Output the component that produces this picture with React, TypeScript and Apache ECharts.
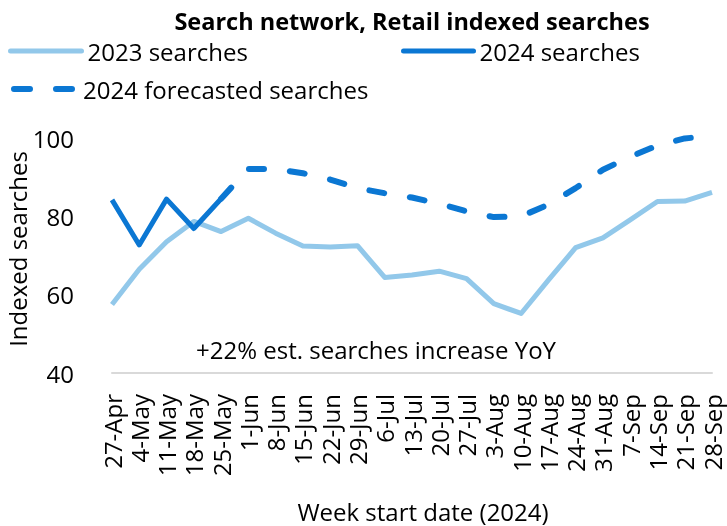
import React, { useEffect, useRef } from "react";
import * as echarts from "echarts";

const categories = [
  "27-Apr", "4-May", "11-May", "18-May", "25-May", "1-Jun", "8-Jun", "15-Jun",
  "22-Jun", "29-Jun", "6-Jul", "13-Jul", "20-Jul", "27-Jul", "3-Aug", "10-Aug",
  "17-Aug", "24-Aug", "31-Aug", "7-Sep", "14-Sep", "21-Sep", "28-Sep",
];

const searches2023 = [
  57.5, 66.5, 73.5, 78.7, 76.1, 79.5, 75.7, 72.4, 72.2, 72.5, 64.4, 65.0,
  66.0, 64.1, 57.7, 55.2, 63.7, 72.0, 74.5, 79.1, 83.8, 83.9, 86.1,
];

const searches2024 = [
  84.2, 72.7, 84.4, 76.9, 84.5, null, null, null, null, null, null, null,
  null, null, null, null, null, null, null, null, null, null, null,
];

const forecast2024 = [
  null, null, null, null, 84.5, 92.1, 92.1, 91.0, 89.4, 87.2, 85.9, 84.8,
  83.2, 81.3, 79.8, 80.0, 83.0, 87.2, 91.9, 95.2, 98.1, 99.9, 100.5,
];

const yMin = 40;
const yMax = 100;
const yInterval = 20;

const FONT = "Open Sans";
const LIGHT = "#92C8EA";
const DARK = "#0B77D3";

const legendBase = {
  padding: 0,
  itemHeight: 14,
  itemGap: 0,
  textStyle: {
    fontSize: 24,
    lineHeight: 26,
    fontFamily: FONT,
    color: "#000",
    padding: [0, 0, 0, 1],
  },
  itemStyle: { opacity: 0, borderWidth: 0 },
};

export default function App() {
  const ref = useRef<HTMLDivElement>(null);

  useEffect(() => {
    if (!ref.current) return;
    const chart = echarts.init(ref.current, null, { renderer: "svg" });
    const option = {
      animation: false,
      textStyle: { fontFamily: FONT, color: "#000" },
      grid: { left: 112, right: 15, top: 138, bottom: 153, containLabel: false },
      legend: [
        {
          ...legendBase,
          data: ["2023 searches"],
          left: 8,
          top: 38,
          itemWidth: 71,
          lineStyle: { width: 5, cap: "round" },
        },
        {
          ...legendBase,
          data: ["2024 searches"],
          left: 401,
          top: 38,
          itemWidth: 70,
          lineStyle: { width: 5, cap: "round" },
        },
        {
          ...legendBase,
          data: ["2024 forecasted searches"],
          left: 8,
          top: 76,
          itemWidth: 66,
          lineStyle: { width: 6, cap: "round", type: [16, 26], dashOffset: -3 },
        },
      ],
      xAxis: {
        type: "category",
        data: categories,
        boundaryGap: false,
        axisLine: { show: true, lineStyle: { color: "#D9D9D9", width: 2 } },
        axisTick: { show: false },
        axisLabel: {
          interval: 0,
          rotate: 90,
          margin: 21,
          fontSize: 24,
          fontFamily: FONT,
          color: "#000",
        },
        splitLine: { show: false },
      },
      yAxis: {
        type: "value",
        min: yMin,
        max: yMax,
        interval: yInterval,
        axisLine: { show: false },
        axisTick: { show: false },
        splitLine: { show: false },
        axisLabel: { margin: 38, fontSize: 24, fontFamily: FONT, color: "#000" },
      },
      series: [
        {
          name: "2023 searches",
          type: "line",
          data: searches2023,
          symbol: "none",
          clip: false,
          color: LIGHT,
          lineStyle: { color: LIGHT, width: 5, join: "round" },
          z: 2,
        },
        {
          name: "2024 searches",
          type: "line",
          data: searches2024,
          symbol: "none",
          clip: false,
          color: DARK,
          lineStyle: { color: DARK, width: 5, join: "round" },
          z: 3,
        },
        {
          name: "2024 forecasted searches",
          type: "line",
          data: forecast2024,
          symbol: "none",
          clip: false,
          color: DARK,
          lineStyle: { color: DARK, width: 6, type: [15, 26], cap: "round", join: "round" },
          z: 4,
        },
      ],
      graphic: [
        {
          type: "text",
          x: 412,
          y: 21,
          style: {
            text: "Search network, Retail indexed searches",
            fontSize: 23.5,
            lineHeight: 24,
            fontWeight: "bold",
            fontFamily: FONT,
            fill: "#000",
            textAlign: "center",
            textVerticalAlign: "middle",
          },
        },
        {
          type: "text",
          x: 17,
          y: 249,
          rotation: Math.PI / 2,
          style: {
            text: "Indexed searches",
            fontSize: 24,
            fontFamily: FONT,
            fill: "#000",
            textAlign: "center",
            textVerticalAlign: "middle",
          },
        },
        {
          type: "text",
          x: 423,
          y: 511,
          style: {
            text: "Week start date (2024)",
            fontSize: 24,
            lineHeight: 26,
            fontFamily: FONT,
            fill: "#000",
            textAlign: "center",
            textVerticalAlign: "middle",
          },
        },
        {
          type: "text",
          x: 376,
          y: 349,
          style: {
            text: "+22% est. searches increase YoY",
            fontSize: 24,
            fontFamily: FONT,
            fill: "#000",
            textAlign: "center",
            textVerticalAlign: "middle",
          },
        },
      ],
    };
    chart.setOption(option as any);
    return () => chart.dispose();
  }, []);

  return (
    <div
      ref={ref}
      style={{ position: "fixed", left: 0, top: 0, width: 727, height: 526 }}
    />
  );
}
